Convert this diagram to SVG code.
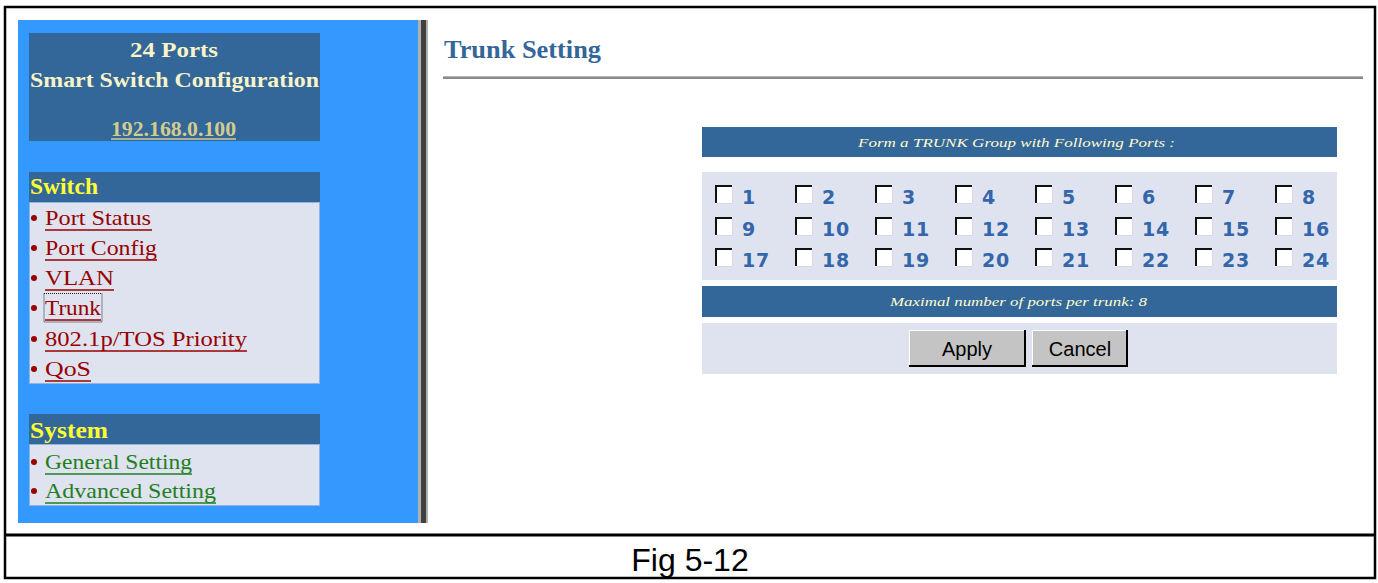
<svg xmlns="http://www.w3.org/2000/svg" width="1378" height="583" viewBox="0 0 1378 583">
<style>
.hdr{fill:#336699}
.lst{fill:#dfe3ef;stroke:#8fb5e0;stroke-width:1}
.ttl{font-family:"Liberation Serif",serif;font-weight:bold;fill:#f8f4c8;font-size:21px}
.sec{font-family:"Liberation Serif",serif;font-weight:bold;fill:#ffff33;font-size:23px}
.lnk{font-family:"Liberation Serif",serif;font-size:22px}
.red{fill:#990000}
.grn{fill:#1f7f1f}
.ulr{stroke:#990000;stroke-width:1.5}
.ulg{stroke:#1f7f1f;stroke-width:1.5}
.bul{fill:#990000}
.bar{fill:#336699}
.area{fill:#dfe3ef}
.cap{font-family:"Liberation Serif",serif;font-style:italic;font-size:13px;fill:#fffccc}
.num{font-family:"DejaVu Sans",sans-serif;font-weight:bold;font-size:19px;letter-spacing:0.8px;fill:#3366aa}
.cbf{fill:#ffffff}
.cbd{fill:none;stroke:#111;stroke-width:2}
.cbl{fill:none;stroke:#d8d8d8;stroke-width:1}
.btn{fill:#c4c4c4}
.btt{font-family:"Liberation Sans",sans-serif;font-size:20px;fill:#000}
</style>
<defs>
<g id="cb">
<rect class="cbf" x="0" y="0" width="18" height="19"/>
<path class="cbd" d="M1,18 V1 H17"/>
<path class="cbl" d="M1.5,18.5 H17.5 V1.5"/>
</g>
</defs>
<rect x="0" y="0" width="1378" height="583" fill="#ffffff"/>

<g id="frame">
<rect x="5" y="7" width="1370" height="571" fill="none" stroke="#000" stroke-width="2.5"/>
<line x1="5" y1="535" x2="1375" y2="535" stroke="#000" stroke-width="3"/>
</g>

<g id="sidebar">
<rect x="18" y="20" width="400" height="503" fill="#3399ff"/>
<rect x="418" y="20" width="10" height="503" fill="#b0b0b0"/>
<rect x="421" y="20" width="5" height="503" fill="#404040"/>
</g>

<g id="title-box">
<rect class="hdr" x="29" y="33" width="291" height="108"/>
<text class="ttl" x="174" y="57" text-anchor="middle" textLength="88" lengthAdjust="spacingAndGlyphs">24 Ports</text>
<text class="ttl" x="30" y="87" textLength="289" lengthAdjust="spacingAndGlyphs">Smart Switch Configuration</text>
<text x="111" y="136" font-family="Liberation Serif, serif" font-weight="bold" font-size="20" fill="#d4cc8c" textLength="125" lengthAdjust="spacingAndGlyphs">192.168.0.100</text>
<line x1="111" y1="139" x2="236" y2="139" stroke="#d4cc8c" stroke-width="1.5"/>
</g>

<g id="switch-menu">
<rect class="hdr" x="29" y="172" width="291" height="30"/>
<text class="sec" x="30" y="194" textLength="68" lengthAdjust="spacingAndGlyphs">Switch</text>
<rect class="lst" x="29.5" y="202.5" width="290" height="181"/>
<circle class="bul" cx="34" cy="218" r="3"/>
<text class="lnk red" x="45" y="225" textLength="106" lengthAdjust="spacingAndGlyphs">Port Status</text>
<line class="ulr" x1="45" y1="230" x2="152" y2="230"/>
<circle class="bul" cx="34" cy="248" r="3"/>
<text class="lnk red" x="45" y="255" textLength="112" lengthAdjust="spacingAndGlyphs">Port Config</text>
<line class="ulr" x1="45" y1="260" x2="157" y2="260"/>
<circle class="bul" cx="34" cy="278" r="3"/>
<text class="lnk red" x="45" y="285" textLength="69" lengthAdjust="spacingAndGlyphs">VLAN</text>
<line class="ulr" x1="45" y1="290" x2="114" y2="290"/>
<circle class="bul" cx="34" cy="308" r="3"/>
<text class="lnk red" x="45" y="315" textLength="56" lengthAdjust="spacingAndGlyphs">Trunk</text>
<line class="ulr" x1="45" y1="320" x2="101" y2="320"/>
<rect x="44" y="293.5" width="58" height="28.5" fill="none" stroke="#222" stroke-width="1" stroke-dasharray="1,1"/>
<circle class="bul" cx="34" cy="339" r="3"/>
<text class="lnk red" x="45" y="346" textLength="202" lengthAdjust="spacingAndGlyphs">802.1p/TOS Priority</text>
<line class="ulr" x1="45" y1="351" x2="247" y2="351"/>
<circle class="bul" cx="34" cy="369" r="3"/>
<text class="lnk red" x="45" y="376" textLength="46" lengthAdjust="spacingAndGlyphs">QoS</text>
<line class="ulr" x1="45" y1="381" x2="91" y2="381"/>
</g>

<g id="system-menu">
<rect class="hdr" x="29" y="414" width="291" height="30"/>
<text class="sec" x="30" y="438" textLength="78" lengthAdjust="spacingAndGlyphs">System</text>
<rect class="lst" x="29.5" y="444.5" width="290" height="61"/>
<circle class="bul" cx="34" cy="462" r="3"/>
<text class="lnk grn" x="45" y="469" textLength="147" lengthAdjust="spacingAndGlyphs">General Setting</text>
<line class="ulg" x1="45" y1="474" x2="192" y2="474"/>
<circle class="bul" cx="34" cy="491" r="3"/>
<text class="lnk grn" x="45" y="498" textLength="171" lengthAdjust="spacingAndGlyphs">Advanced Setting</text>
<line class="ulg" x1="45" y1="503" x2="216" y2="503"/>
</g>

<g id="page-title">
<text x="444" y="58" font-family="Liberation Serif, serif" font-weight="bold" font-size="25" fill="#336699" textLength="157" lengthAdjust="spacingAndGlyphs">Trunk Setting</text>
<rect x="443" y="76" width="920" height="3" fill="#8a8a8a"/>
<line x1="443" y1="76.5" x2="1363" y2="76.5" stroke="#b8b8b8" stroke-width="1"/>
</g>

<g id="trunk-form">
<rect class="bar" x="702" y="127" width="635" height="30"/>
<text class="cap" x="858" y="147" textLength="317" lengthAdjust="spacingAndGlyphs">Form a TRUNK Group with Following Ports :</text>
<rect class="area" x="702" y="172" width="635" height="108"/>
<use href="#cb" x="715" y="185"/><text class="num" x="742" y="204">1</text>
<use href="#cb" x="795" y="185"/><text class="num" x="822" y="204">2</text>
<use href="#cb" x="875" y="185"/><text class="num" x="902" y="204">3</text>
<use href="#cb" x="955" y="185"/><text class="num" x="982" y="204">4</text>
<use href="#cb" x="1035" y="185"/><text class="num" x="1062" y="204">5</text>
<use href="#cb" x="1115" y="185"/><text class="num" x="1142" y="204">6</text>
<use href="#cb" x="1195" y="185"/><text class="num" x="1222" y="204">7</text>
<use href="#cb" x="1275" y="185"/><text class="num" x="1302" y="204">8</text>
<use href="#cb" x="715" y="217"/><text class="num" x="742" y="236">9</text>
<use href="#cb" x="795" y="217"/><text class="num" x="822" y="236">10</text>
<use href="#cb" x="875" y="217"/><text class="num" x="902" y="236">11</text>
<use href="#cb" x="955" y="217"/><text class="num" x="982" y="236">12</text>
<use href="#cb" x="1035" y="217"/><text class="num" x="1062" y="236">13</text>
<use href="#cb" x="1115" y="217"/><text class="num" x="1142" y="236">14</text>
<use href="#cb" x="1195" y="217"/><text class="num" x="1222" y="236">15</text>
<use href="#cb" x="1275" y="217"/><text class="num" x="1302" y="236">16</text>
<use href="#cb" x="715" y="248"/><text class="num" x="742" y="267">17</text>
<use href="#cb" x="795" y="248"/><text class="num" x="822" y="267">18</text>
<use href="#cb" x="875" y="248"/><text class="num" x="902" y="267">19</text>
<use href="#cb" x="955" y="248"/><text class="num" x="982" y="267">20</text>
<use href="#cb" x="1035" y="248"/><text class="num" x="1062" y="267">21</text>
<use href="#cb" x="1115" y="248"/><text class="num" x="1142" y="267">22</text>
<use href="#cb" x="1195" y="248"/><text class="num" x="1222" y="267">23</text>
<use href="#cb" x="1275" y="248"/><text class="num" x="1302" y="267">24</text>
<rect class="bar" x="702" y="286" width="635" height="31"/>
<text class="cap" x="890" y="306" textLength="257" lengthAdjust="spacingAndGlyphs">Maximal number of ports per trunk: 8</text>
<rect class="area" x="702" y="323" width="635" height="51"/>
</g>

<g id="apply-button">
<rect class="btn" x="909" y="330" width="117" height="37"/>
<path d="M909.5,366.5 V330.5 H1025.5" fill="none" stroke="#ffffff" stroke-width="1"/>
<path d="M909,366 H1025 V330" fill="none" stroke="#000" stroke-width="2"/>
<text class="btt" x="967" y="356" text-anchor="middle">Apply</text>
</g>

<g id="cancel-button">
<rect class="btn" x="1032" y="330" width="96" height="37"/>
<path d="M1032.5,366.5 V330.5 H1127.5" fill="none" stroke="#ffffff" stroke-width="1"/>
<path d="M1032,366 H1127 V330" fill="none" stroke="#000" stroke-width="2"/>
<text class="btt" x="1080" y="356" text-anchor="middle">Cancel</text>
</g>

<g id="caption">
<text x="690" y="571" text-anchor="middle" font-family="Liberation Sans, sans-serif" font-size="32" fill="#000">Fig 5-12</text>
</g>
</svg>
